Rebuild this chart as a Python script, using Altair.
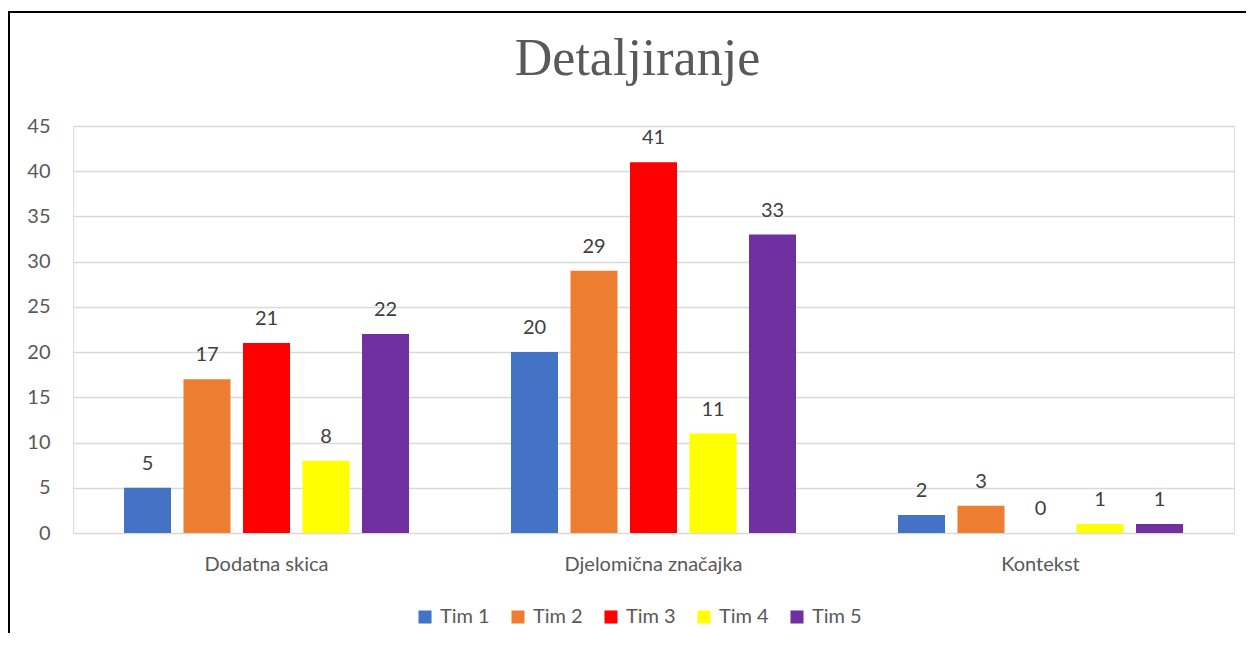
import altair as alt
import pandas as pd

categories = ["Dodatna skica", "Djelomična značajka", "Kontekst"]
teams = ["Tim 1", "Tim 2", "Tim 3", "Tim 4", "Tim 5"]
tim1 = [5, 20, 2]
tim2 = [17, 29, 3]
tim3 = [21, 41, 0]
tim4 = [8, 11, 1]
tim5 = [22, 33, 1]
colors = ["#4472C4", "#ED7D31", "#FF0000", "#FFFF00", "#7030A0"]
y_ticks = [0, 5, 10, 15, 20, 25, 30, 35, 40, 45]

rows = []
for team, vals in zip(teams, [tim1, tim2, tim3, tim4, tim5]):
    for cat, v in zip(categories, vals):
        rows.append({"Kategorija": cat, "Tim": team, "Vrijednost": v})
df = pd.DataFrame(rows)

FONT = "Lato"
GRAY = "#595959"

x_enc = alt.X("Kategorija:N", sort=categories,
              scale=alt.Scale(paddingInner=0, paddingOuter=0),
              axis=alt.Axis(title=None, labelAngle=0, labelFontSize=20, labelFont=FONT,
                            labelColor=GRAY, domain=False, ticks=False, labelPadding=21,
                            grid=False))
xo_enc = alt.XOffset("Tim:N", sort=teams,
                     scale=alt.Scale(paddingInner=0.21, paddingOuter=0.857))
y_enc = alt.Y("Vrijednost:Q", scale=alt.Scale(domain=[0, 45], nice=False),
              axis=alt.Axis(title=None, values=y_ticks, labelFontSize=20, labelFont=FONT,
                            labelColor=GRAY, domain=False, ticks=False, labelPadding=23,
                            gridColor="#D9D9D9", gridWidth=1.5))

base = alt.Chart(df)

bars = base.mark_bar().encode(
    x=x_enc, xOffset=xo_enc, y=y_enc,
    color=alt.Color("Tim:N", sort=teams,
                    scale=alt.Scale(domain=teams, range=colors),
                    legend=alt.Legend(title=None, orient="none", direction="horizontal",
                                      legendX=342, legendY=481, symbolType="square",
                                      symbolSize=170, symbolStrokeWidth=0,
                                      labelFontSize=20, labelFont=FONT, labelColor=GRAY,
                                      labelOffset=5, columnPadding=18)),
)

labels = base.mark_text(baseline="alphabetic", dy=-18, fontSize=20, font=FONT,
                        color="#404040").encode(
    x=x_enc, xOffset=xo_enc, y=y_enc, text="Vrijednost:Q"
)

frame_data = alt.Data(values=[{"k": 1}])
left_border = alt.Chart(frame_data).mark_rule(color="black", strokeWidth=2).encode(
    x=alt.value(-64), y=alt.value(-114), y2=alt.value(520)
)
top_border = alt.Chart(frame_data).mark_rule(color="black", strokeWidth=2).encode(
    x=alt.value(-65), x2=alt.value(1175), y=alt.value(-114)
)

chart = alt.layer(bars, labels, left_border, top_border).properties(
    width=1161, height=407,
    title=alt.TitleParams("Detaljiranje", font="Liberation Serif", fontSize=52,
                          fontWeight="normal", color=GRAY, anchor="middle",
                          frame="group", baseline="alphabetic", offset=-116, dx=-16),
    autosize=alt.AutoSizeParams(type="none"),
    padding={"left": 65, "top": 118, "right": 12, "bottom": 100},
).configure_view(stroke=None).configure(background="white")

chart.save("out.html", embed_options={"renderer": "svg", "actions": False})
